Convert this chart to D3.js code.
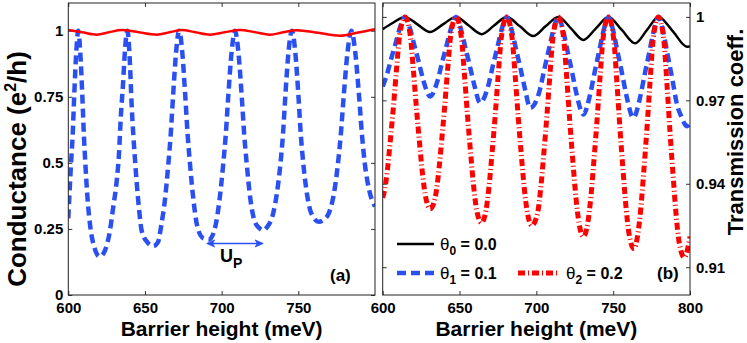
<!DOCTYPE html>
<html>
<head>
<meta charset="utf-8">
<script src="https://cdn.jsdelivr.net/npm/d3@7"></script>
<style>
  body { margin: 0; background: #fff; }
  svg { display: block; }
</style>
</head>
<body>
<svg id="chart" width="747" height="343"></svg>
<script>
// ---- data ----
// panel (a): conductance vs barrier height
var condRedA = [[600,1.003],[609,0.994],[618.5,0.985],[626.5,0.994],[634.8,1.003],[646,0.994],[657.6,0.985],[666,0.994],
  [674,1.003],[683,0.994],[692.4,0.985],[702,0.994],[712,1.003],[722,0.994],[731.5,0.985],[740,0.994],[748.9,1.002],
  [763,0.992],[777,0.981],[789,0.993],[800,1.006]];

var condBlueA = [[600,0.29],[601.8,0.5],[602.8,0.6],[603.9,0.76],[605.2,0.92],[606.5,1.0],[607.8,0.92],[609.1,0.76],
  [610.2,0.6],[611.1,0.5],[612.6,0.36],[614.3,0.26],[617,0.18],[620.5,0.145],[624,0.17],[627.2,0.245],[629.3,0.333],
  [631.5,0.428],[633,0.53],[634.3,0.68],[635.7,0.8],[637,0.93],[638.5,1.0],[640,0.9],[641.3,0.72],[643.4,0.52],
  [646,0.333],[647.8,0.245],[651.5,0.2],[655.4,0.185],[658.5,0.2],[660.5,0.26],[663,0.36],[665.3,0.5],[666.7,0.6],
  [668.4,0.76],[670.3,0.92],[672.3,1.0],[674.3,0.92],[676.2,0.76],[677.9,0.6],[679.3,0.5],[681.6,0.36],[684.1,0.26],
  [688,0.215],[691.8,0.21],[695.9,0.26],[698.6,0.36],[701.1,0.5],[702.6,0.6],[704.4,0.76],[706.5,0.92],[708.7,1.0],
  [710.9,0.92],[713,0.76],[714.8,0.6],[716.3,0.5],[718.8,0.36],[721.5,0.28],[724.3,0.255],[727.1,0.245],[730,0.26],
  [733.2,0.3],[735.9,0.38],[738.4,0.5],[739.9,0.6],[741.6,0.76],[743.6,0.92],[745.8,1.0],[748,0.92],[750,0.76],
  [751.7,0.6],[753.2,0.5],[755.7,0.38],[758.4,0.31],[763.5,0.277],[766.5,0.285],[769.9,0.31],[773.1,0.38],[775.9,0.5],
  [777.6,0.6],[779.7,0.76],[782.1,0.92],[784.6,1.0],[787.1,0.92],[789.5,0.76],[791.6,0.6],[793.3,0.5],[796.1,0.4],
  [800,0.335]];

// panel (b): transmission coefficient for three angles
var transTheta0 = [[600,0.9956],[606.5,0.9978],[614.5,1.0],[622.6,0.9973],[630.8,0.9946],[639.2,0.9973],[647.7,1.0],
  [656,0.9969],[664.4,0.9938],[672.5,0.9969],[680.7,1.0],[689.3,0.9966],[698,0.9931],[706,0.9966],[714.3,1.0],
  [722.5,0.9959],[730.6,0.9917],[738.8,0.9959],[746.9,1.0],[755.6,0.9953],[764.3,0.9905],[772,0.9953],[779.5,1.0],
  [789,0.9947],[798,0.9893],[800,0.9895]];

var transTheta1 = [[600,0.975],[602.5,0.9788],[605.5,0.9849],[608.5,0.9907],[611.5,0.9966],[614.5,1.0],
  [617.5,0.9963],[620.5,0.99],[623.5,0.9837],[626.5,0.9771],[630.9,0.9714],
  [635.7,0.9771],[638.7,0.9837],[641.7,0.99],[644.7,0.9963],[647.7,1.0],
  [650.7,0.996],[653.7,0.9892],[656.7,0.9824],[659.7,0.9753],[663.4,0.9691],
  [668.7,0.9753],[671.7,0.9824],[674.7,0.9892],[677.7,0.996],[680.7,1.0],
  [683.7,0.9958],[686.7,0.9886],[689.7,0.9814],[692.7,0.9738],[696,0.9673],
  [702.3,0.9738],[705.3,0.9814],[708.3,0.9886],[711.3,0.9958],[714.3,1.0],
  [717.3,0.9954],[720.3,0.9877],[723.3,0.98],[726.3,0.9719],[730.6,0.9649],
  [734.9,0.9719],[737.9,0.98],[740.9,0.9877],[743.9,0.9954],[746.9,1.0],
  [749.9,0.9953],[752.9,0.9873],[755.9,0.9793],[758.9,0.971],[763.1,0.9637],
  [767.5,0.971],[770.5,0.9793],[773.5,0.9873],[776.5,0.9953],[779.5,1.0],
  [782.5,0.9949],[785.5,0.9862],[788.5,0.9776],[791.5,0.9686],[794.5,0.964],[797.9,0.9607],[800,0.962]];

var transTheta2 = [[600,0.935],[601,0.937],[603,0.9447],[605,0.9558],[607,0.9678],[609,0.9812],[611,0.9933],[614.5,1.0],
  [618,0.9931],[620,0.9807],[622,0.9669],[624,0.9545],[626,0.9431],[628,0.9351],[630.9,0.931],
  [634.2,0.9351],[636.2,0.9431],[638.2,0.9545],[640.2,0.9669],[642.2,0.9807],[644.2,0.9931],[647.7,1.0],
  [651.2,0.9926],[653.2,0.9793],[655.2,0.9645],[657.2,0.9512],[659.2,0.939],[661.2,0.9304],[664.3,0.926],
  [667.2,0.9304],[669.2,0.939],[671.2,0.9512],[673.2,0.9645],[675.2,0.9793],[677.2,0.9926],[680.7,1.0],
  [684.2,0.9925],[686.2,0.979],[688.2,0.964],[690.2,0.9505],[692.2,0.9381],[694.2,0.9295],[697,0.925],
  [700.8,0.9295],[702.8,0.9381],[704.8,0.9505],[706.8,0.964],[708.8,0.979],[710.8,0.9925],[714.3,1.0],
  [717.8,0.9921],[719.8,0.9779],[721.8,0.9621],[723.8,0.9479],[725.8,0.9348],[727.8,0.9257],[730.6,0.921],
  [733.4,0.9257],[735.4,0.9348],[737.4,0.9479],[739.4,0.9621],[741.4,0.9779],[743.4,0.9921],[746.9,1.0],
  [750.4,0.9917],[752.4,0.9767],[754.4,0.96],[756.4,0.945],[758.4,0.9313],[760.4,0.9217],[763.5,0.9167],
  [766,0.9217],[768,0.9313],[770,0.945],[772,0.96],[774,0.9767],[776,0.9917],[779.5,1.0],
  [783,0.9914],[785,0.9758],[787,0.9585],[789,0.943],[791,0.9286],[793,0.9187],[796.3,0.9135],[800,0.921]];

var xTicksA = [600, 650, 700, 750];
var xTicksB = [600, 650, 700, 750, 800];
var yTicksA = [0, 0.25, 0.5, 0.75, 1];
var yTickLabelsA = ["0", "0.25", "0.5", "0.75", "1"];
var yTicksB = [0.91, 0.94, 0.97, 1];
var yTickLabelsB = ["0.91", "0.94", "0.97", "1"];
var upArrow = [690.2, 727.1];   // U_P period marker (meV)
var upArrowLevel = 0.195;
var legendLabels = [["0", " = 0.0"], ["1", " = 0.1"], ["2", " = 0.2"]];

// ---- setup ----
var svg = d3.select("#chart");
var FONT = "'Liberation Sans', Arial, Helvetica, sans-serif";
var BLUE = "#2b50f2";
var RED = "#ff0000";

var plotTop = 3, plotBottom = 295;
var xa = d3.scaleLinear().domain([600, 800]).range([68.3, 375]);
var ya = d3.scaleLinear().domain([0, 1.105]).range([plotBottom, plotTop]);
var xb = d3.scaleLinear().domain([600, 800]).range([382.7, 690]);
var yb = d3.scaleLinear().domain([0.9, 1.005]).range([plotBottom, plotTop]);

svg.append("rect").attr("width", 747).attr("height", 343).attr("fill", "#fff");

var defs = svg.append("defs");
defs.append("clipPath").attr("id", "clipA").append("rect")
    .attr("x", 68.3).attr("y", plotTop).attr("width", 375 - 68.3).attr("height", plotBottom - plotTop);
defs.append("clipPath").attr("id", "clipB").append("rect")
    .attr("x", 382.7).attr("y", plotTop).attr("width", 690 - 382.7).attr("height", plotBottom - plotTop);

function styleAxis(g) {
    g.select(".domain").remove();
    g.selectAll(".tick line").attr("stroke", "#333").attr("stroke-width", 1);
    g.selectAll("text")
        .attr("font-family", FONT)
        .attr("font-size", 15)
        .attr("font-weight", "bold")
        .attr("fill", "#000");
}

// ---- panel (a) ----
var gA = svg.append("g");

gA.append("g").attr("transform", "translate(0," + plotBottom + ")")
    .call(d3.axisBottom(xa).tickValues(xTicksA).tickSize(-4).tickPadding(7).tickFormat(d3.format("d")))
    .call(styleAxis);
gA.append("g").attr("transform", "translate(0," + plotTop + ")")
    .call(d3.axisTop(xa).tickValues(xTicksA).tickSize(-4).tickFormat(""))
    .call(styleAxis);
gA.append("g").attr("transform", "translate(68.3,0)")
    .call(d3.axisLeft(ya).tickValues(yTicksA).tickSize(-4).tickPadding(5)
        .tickFormat(function (d, i) { return yTickLabelsA[i]; }))
    .call(styleAxis);
gA.append("g").attr("transform", "translate(375,0)")
    .call(d3.axisRight(ya).tickValues(yTicksA).tickSize(-4).tickFormat(""))
    .call(styleAxis);

var lineA = d3.line()
    .x(function (d) { return xa(d[0]); })
    .y(function (d) { return ya(d[1]); })
    .curve(d3.curveMonotoneX);

var plotA = gA.append("g").attr("clip-path", "url(#clipA)");
plotA.append("path").datum(condBlueA)
    .attr("d", lineA).attr("fill", "none")
    .attr("stroke", BLUE).attr("stroke-width", 4.5)
    .attr("stroke-dasharray", "9,5");
plotA.append("path").datum(condRedA)
    .attr("d", lineA).attr("fill", "none")
    .attr("stroke", RED).attr("stroke-width", 2.5);

gA.append("rect")
    .attr("x", 68.3).attr("y", plotTop).attr("width", 375 - 68.3).attr("height", plotBottom - plotTop)
    .attr("fill", "none").attr("stroke", "#222").attr("stroke-width", 1);

// U_P arrow
var ax1 = xa(upArrow[0]), ax2 = xa(upArrow[1]), ay = ya(upArrowLevel);
gA.append("line")
    .attr("x1", ax1 + 2).attr("x2", ax2 - 2).attr("y1", ay).attr("y2", ay)
    .attr("stroke", BLUE).attr("stroke-width", 1.5);
gA.append("path")
    .attr("d", "M" + ax1 + "," + ay + "l8,-3.5l-2,3.5l2,3.5z" +
               "M" + ax2 + "," + ay + "l-8,-3.5l2,3.5l-2,3.5z")
    .attr("fill", BLUE).attr("stroke", BLUE).attr("stroke-width", 0.8);
var upText = gA.append("text")
    .attr("x", 220).attr("y", 262)
    .attr("font-family", FONT).attr("font-weight", "bold").attr("font-size", 18);
upText.append("tspan").text("U");
upText.append("tspan").attr("font-size", 14).attr("dy", 6).text("P");

gA.append("text").attr("x", 330).attr("y", 281)
    .attr("font-family", FONT).attr("font-weight", "bold").attr("font-size", 17)
    .text("(a)");

var yLabA = gA.append("text")
    .attr("transform", "translate(26,169) rotate(-90)")
    .attr("text-anchor", "middle")
    .attr("font-family", FONT).attr("font-weight", "bold").attr("font-size", 26);
yLabA.append("tspan").text("Conductance (e");
yLabA.append("tspan").attr("font-size", 16).attr("dy", -10).text("2");
yLabA.append("tspan").attr("dy", 10).text("/h)");

gA.append("text")
    .attr("x", (68.3 + 375) / 2).attr("y", 336)
    .attr("text-anchor", "middle")
    .attr("font-family", FONT).attr("font-weight", "bold").attr("font-size", 21)
    .text("Barrier height (meV)");

// ---- panel (b) ----
var gB = svg.append("g");
gB.append("rect")
    .attr("x", 382.7).attr("y", plotTop).attr("width", 690 - 382.7).attr("height", plotBottom - plotTop)
    .attr("fill", "#fff");

gB.append("g").attr("transform", "translate(0," + plotBottom + ")")
    .call(d3.axisBottom(xb).tickValues(xTicksB).tickSize(-4).tickPadding(7).tickFormat(d3.format("d")))
    .call(styleAxis);
gB.append("g").attr("transform", "translate(0," + plotTop + ")")
    .call(d3.axisTop(xb).tickValues(xTicksB).tickSize(-4).tickFormat(""))
    .call(styleAxis);
gB.append("g").attr("transform", "translate(690,0)")
    .call(d3.axisRight(yb).tickValues(yTicksB).tickSize(-4).tickPadding(6)
        .tickFormat(function (d, i) { return yTickLabelsB[i]; }))
    .call(styleAxis);
gB.append("g").attr("transform", "translate(382.7,0)")
    .call(d3.axisLeft(yb).tickValues(yTicksB).tickSize(-4).tickFormat(""))
    .call(styleAxis);

var lineB = d3.line()
    .x(function (d) { return xb(d[0]); })
    .y(function (d) { return yb(d[1]); })
    .curve(d3.curveMonotoneX);

var plotB = gB.append("g").attr("clip-path", "url(#clipB)");
plotB.append("path").datum(transTheta0)
    .attr("d", lineB).attr("fill", "none")
    .attr("stroke", "#000").attr("stroke-width", 2.5);
plotB.append("path").datum(transTheta1)
    .attr("d", lineB).attr("fill", "none")
    .attr("stroke", BLUE).attr("stroke-width", 4.5)
    .attr("stroke-dasharray", "9,5");
plotB.append("path").datum(transTheta2)
    .attr("d", lineB).attr("fill", "none")
    .attr("stroke", RED).attr("stroke-width", 5)
    .attr("stroke-dasharray", "7,3,1,3");

gB.append("rect")
    .attr("x", 382.7).attr("y", plotTop).attr("width", 690 - 382.7).attr("height", plotBottom - plotTop)
    .attr("fill", "none").attr("stroke", "#222").attr("stroke-width", 1);

// legend
var legendItems = [
    { x: 397, y: 250, len: 37, stroke: "#000", width: 2.5, dash: null },
    { x: 397, y: 279, len: 37, stroke: BLUE, width: 4.5, dash: "9,5" },
    { x: 518, y: 279, len: 42, stroke: RED, width: 5, dash: "7,3,1,3" }
];
var legend = gB.append("g");
legendItems.forEach(function (d, i) {
    legend.append("line")
        .attr("x1", d.x).attr("x2", d.x + d.len)
        .attr("y1", d.y - 6).attr("y2", d.y - 6)
        .attr("stroke", d.stroke).attr("stroke-width", d.width)
        .attr("stroke-dasharray", d.dash);
    var t = legend.append("text")
        .attr("x", d.x + d.len + 6).attr("y", d.y)
        .attr("font-family", FONT).attr("font-size", 16).attr("font-weight", "bold");
    t.append("tspan").attr("font-weight", "normal").attr("font-size", 17).text("θ");
    t.append("tspan").attr("font-size", 12).attr("dy", 5).text(legendLabels[i][0]);
    t.append("tspan").attr("dy", -5).text(legendLabels[i][1]);
});

gB.append("text").attr("x", 657).attr("y", 279)
    .attr("font-family", FONT).attr("font-weight", "bold").attr("font-size", 17)
    .text("(b)");

gB.append("text")
    .attr("transform", "translate(743,132) rotate(-90)")
    .attr("text-anchor", "middle")
    .attr("font-family", FONT).attr("font-weight", "bold").attr("font-size", 22)
    .text("Transmission coeff.");

gB.append("text")
    .attr("x", (382.7 + 690) / 2).attr("y", 336)
    .attr("text-anchor", "middle")
    .attr("font-family", FONT).attr("font-weight", "bold").attr("font-size", 21)
    .text("Barrier height (meV)");
</script>
</body>
</html>
